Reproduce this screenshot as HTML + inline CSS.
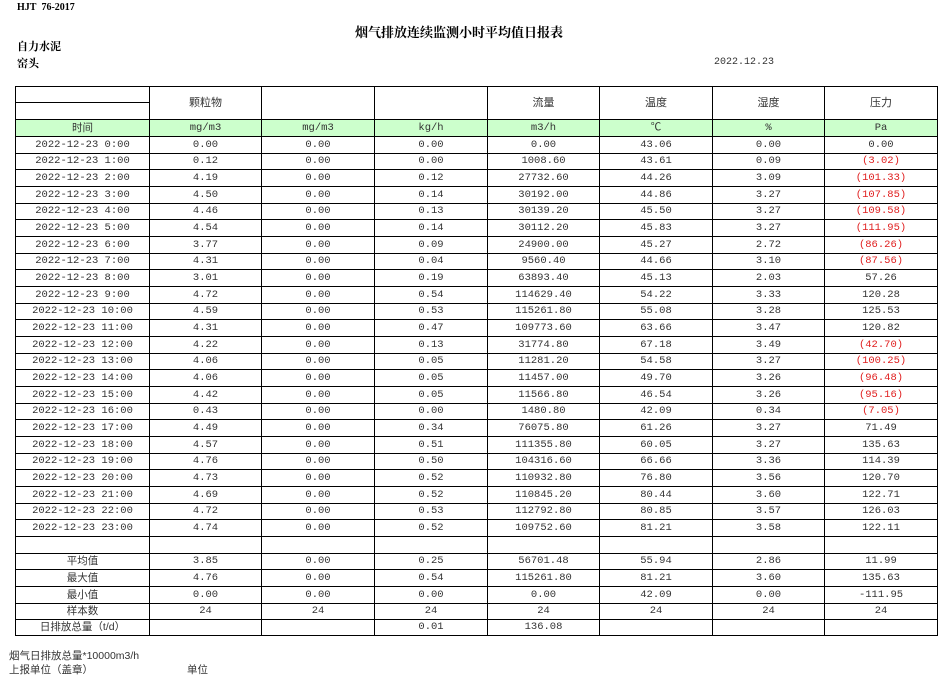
<!DOCTYPE html>
<html><head><meta charset="utf-8"><style>
body{margin:0;width:952px;height:677px;background:#fff;position:relative;overflow:hidden;font-family:"Liberation Mono","Noto Sans CJK SC",monospace;color:#333}
.a{position:absolute;white-space:nowrap}
.b{font-family:"Liberation Serif","Noto Serif CJK SC",serif;font-weight:bold;color:#000}
table{position:absolute;left:15px;top:86px;border-collapse:collapse;table-layout:fixed;font-size:10.5px}
td{border:1px solid #000;text-align:center;padding:1px 0 0 0;height:15px;line-height:15px;overflow:hidden;white-space:nowrap}
tr.s td{padding:0}
tr.u td{background:#ccffcc}
.r{color:#e02020}
.h td{font-family:"Liberation Sans","Noto Sans CJK SC",sans-serif;font-size:11px}
.c{font-family:"Liberation Sans","Noto Sans CJK SC",sans-serif}
</style></head><body>
<div class="a b" style="left:17px;top:2px;font-size:10px">HJT&nbsp;&nbsp;76-2017</div>
<div class="a b" style="left:355px;top:22px;font-size:13px">烟气排放连续监测小时平均值日报表</div>
<div class="a b" style="left:17px;top:38px;font-size:11px">自力水泥</div>
<div class="a b" style="left:17px;top:55px;font-size:11px">窑头</div>
<div class="a" style="left:714px;top:57px;font-size:10px">2022.12.23</div>
<table>
<colgroup><col style="width:134px"><col style="width:112px"><col style="width:113px"><col style="width:113px"><col style="width:112px"><col style="width:113px"><col style="width:112px"><col style="width:113px"></colgroup>
<tr class="h s"><td></td><td rowspan="2">颗粒物</td><td rowspan="2"></td><td rowspan="2"></td><td rowspan="2">流量</td><td rowspan="2">温度</td><td rowspan="2">湿度</td><td rowspan="2">压力</td></tr>
<tr><td></td></tr>
<tr class="u"><td class="c">时间</td><td>mg/m3</td><td>mg/m3</td><td>kg/h</td><td>m3/h</td><td>℃</td><td>%</td><td>Pa</td></tr>
<tr><td>2022-12-23 0:00</td><td>0.00</td><td>0.00</td><td>0.00</td><td>0.00</td><td>43.06</td><td>0.00</td><td>0.00</td></tr>
<tr class="s"><td>2022-12-23 1:00</td><td>0.12</td><td>0.00</td><td>0.00</td><td>1008.60</td><td>43.61</td><td>0.09</td><td class="r">(3.02)</td></tr>
<tr><td>2022-12-23 2:00</td><td>4.19</td><td>0.00</td><td>0.12</td><td>27732.60</td><td>44.26</td><td>3.09</td><td class="r">(101.33)</td></tr>
<tr><td>2022-12-23 3:00</td><td>4.50</td><td>0.00</td><td>0.14</td><td>30192.00</td><td>44.86</td><td>3.27</td><td class="r">(107.85)</td></tr>
<tr class="s"><td>2022-12-23 4:00</td><td>4.46</td><td>0.00</td><td>0.13</td><td>30139.20</td><td>45.50</td><td>3.27</td><td class="r">(109.58)</td></tr>
<tr><td>2022-12-23 5:00</td><td>4.54</td><td>0.00</td><td>0.14</td><td>30112.20</td><td>45.83</td><td>3.27</td><td class="r">(111.95)</td></tr>
<tr><td>2022-12-23 6:00</td><td>3.77</td><td>0.00</td><td>0.09</td><td>24900.00</td><td>45.27</td><td>2.72</td><td class="r">(86.26)</td></tr>
<tr class="s"><td>2022-12-23 7:00</td><td>4.31</td><td>0.00</td><td>0.04</td><td>9560.40</td><td>44.66</td><td>3.10</td><td class="r">(87.56)</td></tr>
<tr><td>2022-12-23 8:00</td><td>3.01</td><td>0.00</td><td>0.19</td><td>63893.40</td><td>45.13</td><td>2.03</td><td>57.26</td></tr>
<tr><td>2022-12-23 9:00</td><td>4.72</td><td>0.00</td><td>0.54</td><td>114629.40</td><td>54.22</td><td>3.33</td><td>120.28</td></tr>
<tr class="s"><td>2022-12-23 10:00</td><td>4.59</td><td>0.00</td><td>0.53</td><td>115261.80</td><td>55.08</td><td>3.28</td><td>125.53</td></tr>
<tr><td>2022-12-23 11:00</td><td>4.31</td><td>0.00</td><td>0.47</td><td>109773.60</td><td>63.66</td><td>3.47</td><td>120.82</td></tr>
<tr><td>2022-12-23 12:00</td><td>4.22</td><td>0.00</td><td>0.13</td><td>31774.80</td><td>67.18</td><td>3.49</td><td class="r">(42.70)</td></tr>
<tr class="s"><td>2022-12-23 13:00</td><td>4.06</td><td>0.00</td><td>0.05</td><td>11281.20</td><td>54.58</td><td>3.27</td><td class="r">(100.25)</td></tr>
<tr><td>2022-12-23 14:00</td><td>4.06</td><td>0.00</td><td>0.05</td><td>11457.00</td><td>49.70</td><td>3.26</td><td class="r">(96.48)</td></tr>
<tr><td>2022-12-23 15:00</td><td>4.42</td><td>0.00</td><td>0.05</td><td>11566.80</td><td>46.54</td><td>3.26</td><td class="r">(95.16)</td></tr>
<tr class="s"><td>2022-12-23 16:00</td><td>0.43</td><td>0.00</td><td>0.00</td><td>1480.80</td><td>42.09</td><td>0.34</td><td class="r">(7.05)</td></tr>
<tr><td>2022-12-23 17:00</td><td>4.49</td><td>0.00</td><td>0.34</td><td>76075.80</td><td>61.26</td><td>3.27</td><td>71.49</td></tr>
<tr><td>2022-12-23 18:00</td><td>4.57</td><td>0.00</td><td>0.51</td><td>111355.80</td><td>60.05</td><td>3.27</td><td>135.63</td></tr>
<tr class="s"><td>2022-12-23 19:00</td><td>4.76</td><td>0.00</td><td>0.50</td><td>104316.60</td><td>66.66</td><td>3.36</td><td>114.39</td></tr>
<tr><td>2022-12-23 20:00</td><td>4.73</td><td>0.00</td><td>0.52</td><td>110932.80</td><td>76.80</td><td>3.56</td><td>120.70</td></tr>
<tr><td>2022-12-23 21:00</td><td>4.69</td><td>0.00</td><td>0.52</td><td>110845.20</td><td>80.44</td><td>3.60</td><td>122.71</td></tr>
<tr class="s"><td>2022-12-23 22:00</td><td>4.72</td><td>0.00</td><td>0.53</td><td>112792.80</td><td>80.85</td><td>3.57</td><td>126.03</td></tr>
<tr><td>2022-12-23 23:00</td><td>4.74</td><td>0.00</td><td>0.52</td><td>109752.60</td><td>81.21</td><td>3.58</td><td>122.11</td></tr>
<tr><td></td><td></td><td></td><td></td><td></td><td></td><td></td><td></td></tr>
<tr class="s"><td class="c">平均值</td><td>3.85</td><td>0.00</td><td>0.25</td><td>56701.48</td><td>55.94</td><td>2.86</td><td>11.99</td></tr>
<tr><td class="c">最大值</td><td>4.76</td><td>0.00</td><td>0.54</td><td>115261.80</td><td>81.21</td><td>3.60</td><td>135.63</td></tr>
<tr><td class="c">最小值</td><td>0.00</td><td>0.00</td><td>0.00</td><td>0.00</td><td>42.09</td><td>0.00</td><td>-111.95</td></tr>
<tr class="s"><td class="c">样本数</td><td>24</td><td>24</td><td>24</td><td>24</td><td>24</td><td>24</td><td>24</td></tr>
<tr class="s"><td class="c">日排放总量（t/d）</td><td></td><td></td><td>0.01</td><td>136.08</td><td></td><td></td><td></td></tr>
</table>
<div class="a c" style="left:9px;top:648px;font-size:10.5px">烟气日排放总量*10000m3/h</div>
<div class="a c" style="left:9px;top:662px;font-size:10.5px">上报单位（盖章）</div>
<div class="a c" style="left:187px;top:662px;font-size:10.5px">单位</div>
</body></html>
